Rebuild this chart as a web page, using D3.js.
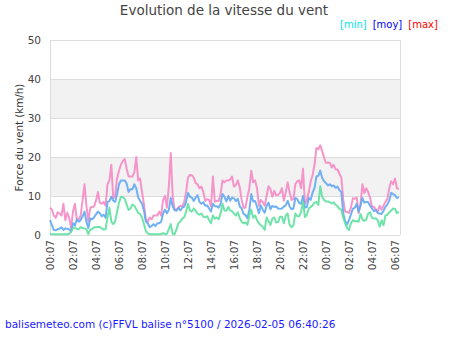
<!DOCTYPE html>
<html><head><meta charset="utf-8">
<script src="https://cdn.jsdelivr.net/npm/d3@7"></script>
<style>body{margin:0;background:#fff;}svg{display:block;font-family:"DejaVu Sans",sans-serif;}</style>
</head><body><div id="chart"></div>
<script>
const title = "Evolution de la vitesse du vent";
const yTitle = "Force du vent (km/h)";
const footer = "balisemeteo.com (c)FFVL balise n°5100 / 2026-02-05 06:40:26";
const startTime = "2026-02-04T00:07:00";
const endTime = "2026-02-05T06:33:00";
const stepMinutes = 10;
const xTickLabels = ["00:07","02:07","04:07","06:07","08:07","10:07","12:07","14:07","16:07","18:07","20:07","22:07","00:07","02:07","04:07","06:07"];
const yTicks = [0,10,20,30,40,50];
const legendItems = [{name:"[min]",color:"#00e5ee"},{name:"[moy]",color:"#0000ff"},{name:"[max]",color:"#ff0000"}];

const maxVals = [7,6.5,5,4.4,5.8,5.5,5,8,3.8,5.7,
4.4,1.8,6,8,4,4,5,9,13,7.5,
3.5,7,7.2,7.3,8.8,11,8.3,8,8.5,7.5,
13,14,18,9.4,10,14.5,16.5,18,19,19.5,
17,15,15,15,16,20,14,14.5,11,8,
4,3.4,4.5,4,5,5,5,6,5,9,
10,7,12.5,21,10,6.5,6.5,7,7.5,7.3,
8.5,11,14.8,15.4,15.3,14.7,13.3,13,12,12.4,
11,8.7,9.2,9,7.3,15,8.5,8.8,8.7,10.5,
14,13.5,14,14,14.2,15,12.4,12.8,14,12.2,
9,7,7,9.8,12,16.5,13.5,14,12,7.5,
9,8.5,7.5,10,12.5,11.8,9.8,11.3,10.2,10.3,
10.8,12,8.8,11,13.5,11,9,9.2,13,13.8,
14,12,17,8,9,11,13.7,15.3,18,22.3,
22,23,21.5,19.8,18.5,18.5,18.5,17.3,18,16.8,
16.8,15.7,14.7,9,6,5.9,5.7,7,9.4,9.3,
9.6,5.6,8,13,10.7,12,11,9.5,7.3,7.2,
6.5,6,7.5,6.5,7.5,8.5,9.2,12,13.8,13,
14.5,12,11.8];

const moyVals = [3.8,2.5,1.3,1.2,1.5,1.6,2,1.3,1.7,1.6,
1.4,0.9,3,2.5,4,3.4,3.8,4.8,6,3.4,
1.8,4.3,4,4.5,5.3,6,5.6,4.8,5.2,4.4,
8.5,8.7,9.8,8.8,8.5,10.5,13,14,14,14,
13.2,11,11.8,11.7,13,12,9.6,8.8,8,6.3,
3.5,3,2,2.3,2.8,2.3,3,3,3.4,5.5,
6.5,5.6,6.5,9.5,7.3,6.4,6.2,7,6.3,7,
7.3,8.5,10.8,9.8,9.6,8.7,9.6,10.2,8.5,8,
8.4,7.5,7.6,6.8,6,8,7.4,7.4,7,8,
10.5,9.8,8.6,10,8.8,9.6,9.4,8.7,9.3,7.3,
6.8,5.4,5.1,4.3,6.5,10.5,8.6,8.7,7.3,5.6,
7.6,6.5,5.7,7.5,8.3,6.6,7.5,7.2,7.3,6.8,
6.7,6.8,7.3,7.6,8.8,7.3,6.6,6.8,9.5,9.2,
8.2,8,10,7,7.2,9.5,9,10.9,12,15,
15.2,16.5,14.6,13.8,13.3,12.7,13,12.5,12.7,12.1,
12.4,11.5,11,5.5,3.5,2.7,3.8,5.3,6.7,7,
8,6,7.5,9.5,8.3,8.5,8.4,7.5,6.8,6.1,
6.4,5.6,5.5,5.4,6.2,7.2,7.8,8.8,10.8,10.5,
10.2,9.5,9.7];

const minVals = [0.3,0.2,0.2,0.2,0.2,0.2,0.2,0.2,0.2,0.2,
0.3,0.8,1.7,2,1.5,1.5,2,1.8,1.7,1.5,
0.2,1.4,1.5,2,2,2.1,2,1.7,1.4,1.5,
4.5,7,3.4,2.8,3.5,6,8.3,9.8,9.7,9.3,
7.8,6.4,6.8,7.8,7.5,6.6,5.6,5.4,4.5,2.8,
1,0.4,0.2,0.2,0.2,0.2,0.2,0.2,0.2,0.5,
0.2,0.3,1.5,2.8,0.3,0.2,1.5,3,3.5,4.2,
4.5,6,8,6.3,6,6.8,6.2,5.5,5.2,5.5,
4.7,4.6,4.8,3.8,3,5,4.2,4.5,4,5.5,
8,6.3,6.2,7.2,6.3,6.1,5.5,5,5.8,4.4,
3.4,3,3.2,2.6,5,6.5,4.4,5,3.8,3,
2.5,2.1,1.3,4.5,3.5,2.6,4.2,4.5,3.2,3.3,
4.7,4.7,3,5,5.5,2.6,2,2.5,5.5,4.8,
4.8,6,8.5,4.6,5.2,6.8,7.2,7.6,8.3,8.5,
7.7,12.5,9.8,9,8.6,8.6,8.4,8.1,8.4,7.7,
7.4,6.7,6.5,4.5,3,1.8,1.3,3,3.8,3.5,
3.6,3.4,5.4,4,3.6,4,5.5,5.8,4.4,4.2,
4.3,3.8,2.1,3.8,2.5,5,5.2,5.8,6.3,6.8,
6.7,5.6,6];

const W = 450, H = 350;
const margin = {left:50, right:50, top:40, bottom:115};
const svg = d3.select("#chart").append("svg").attr("width",W).attr("height",H);

const t0 = new Date(startTime);
const times = maxVals.map((_,i)=> new Date(t0.getTime() + i*stepMinutes*60000));
const x = d3.scaleTime().domain([t0, new Date(endTime)]).range([margin.left, W-margin.right]);
const y = d3.scaleLinear().domain([0,50]).range([H-margin.bottom, margin.top]);

// bands
for (let k=0;k<yTicks.length-1;k++){
  if (k%2===1){
    svg.append("rect").attr("x",x.range()[0]).attr("width",x.range()[1]-x.range()[0])
      .attr("y",y(yTicks[k+1])).attr("height",y(yTicks[k])-y(yTicks[k+1])).attr("fill","#f2f2f2");
  }
}
// grid
svg.append("g").selectAll("line").data(yTicks).join("line")
  .attr("x1",x.range()[0]).attr("x2",x.range()[1]).attr("y1",d=>y(d)+0.5).attr("y2",d=>y(d)+0.5)
  .attr("stroke","#dddddd").attr("stroke-width",1);
svg.append("line").attr("x1",x.range()[0]+0.5).attr("x2",x.range()[0]+0.5).attr("y1",y(50)).attr("y2",y(0)).attr("stroke","#dddddd");
svg.append("line").attr("x1",x.range()[1]+0.5).attr("x2",x.range()[1]+0.5).attr("y1",y(50)).attr("y2",y(0)).attr("stroke","#dddddd");

// y axis labels
const yAxis = d3.axisLeft(y).tickValues(yTicks).tickSize(0).tickPadding(9);
const gy = svg.append("g").attr("transform",`translate(${x.range()[0]},0)`).call(yAxis);
gy.select(".domain").remove();
gy.selectAll("text").attr("fill","#444").style("font-size","10.5px").style("font-family","DejaVu Sans");

// x axis
const tickDates = xTickLabels.map((_,k)=> new Date(t0.getTime() + k*2*3600000));
const xAxis = d3.axisBottom(x).tickValues(tickDates).tickSize(0).tickFormat((d,i)=>xTickLabels[i]);
const gx = svg.append("g").attr("transform",`translate(0,${y(0)})`).call(xAxis);
gx.select(".domain").remove();
gx.selectAll("text").attr("fill","#444").style("font-size","10.5px").style("font-family","DejaVu Sans")
  .attr("transform","rotate(-90)").attr("text-anchor","end").attr("x",-5).attr("y",0).attr("dy","0.35em");

// lines
const series = [
  {vals:maxVals, color:"#f58ac4"},
  {vals:moyVals, color:"#62a8f2"},
  {vals:minVals, color:"#5fe0a0"}
];
series.forEach(s=>{
  const line = d3.line().x((d,i)=>x(times[i])).y(d=>y(d));
  svg.append("path").datum(s.vals).attr("d",line).attr("fill","none")
    .attr("stroke",s.color).attr("stroke-width",2).attr("stroke-opacity",0.9).attr("stroke-linejoin","round");
});

// titles
svg.append("text").attr("x",224).attr("y",15).attr("text-anchor","middle").attr("fill","#444")
  .style("font-size","13.5px").text(title);
let lx = 340;
legendItems.forEach(l=>{
  const t = svg.append("text").attr("x",lx).attr("y",28).attr("fill",l.color).style("font-size","10px").text(l.name);
  lx += t.node().getComputedTextLength() + 6;
});
svg.append("text").attr("transform",`translate(23,${(y(0)+y(50))/2}) rotate(-90)`).attr("text-anchor","middle")
  .attr("fill","#333").style("font-size","10.3px").text(yTitle);
svg.append("text").attr("x",5).attr("y",328).attr("fill","#1a1aff").style("font-size","10.5px").text(footer);
</script></body></html>
